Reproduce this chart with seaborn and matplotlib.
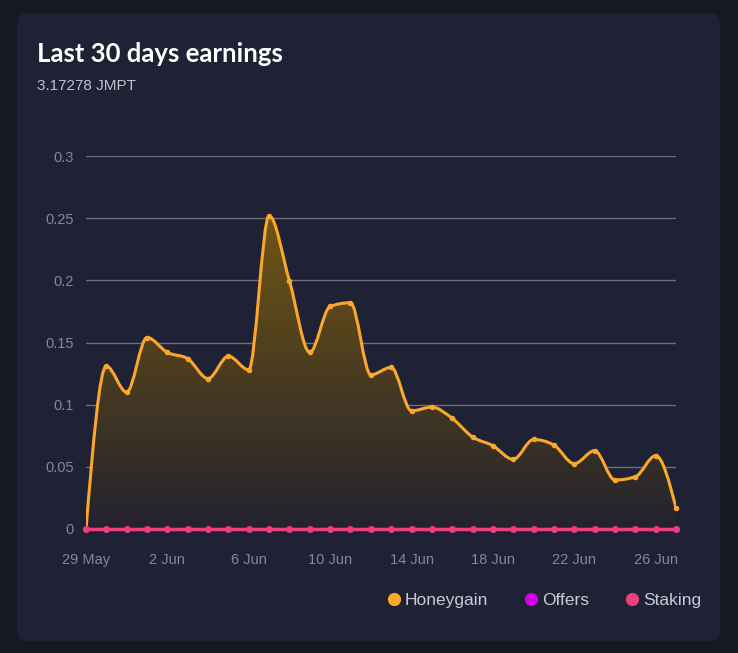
import numpy as np
import pandas as pd
import matplotlib
matplotlib.use("Agg")
import matplotlib.pyplot as plt
import seaborn as sns
from matplotlib.path import Path
from matplotlib.patches import PathPatch, FancyBboxPatch
from matplotlib.lines import Line2D

# ---------------- data ----------------
dates = ["29 May", "30 May", "31 May", "1 Jun", "2 Jun", "3 Jun", "4 Jun", "5 Jun",
         "6 Jun", "7 Jun", "8 Jun", "9 Jun", "10 Jun", "11 Jun", "12 Jun", "13 Jun",
         "14 Jun", "15 Jun", "16 Jun", "17 Jun", "18 Jun", "19 Jun", "20 Jun", "21 Jun",
         "22 Jun", "23 Jun", "24 Jun", "25 Jun", "26 Jun", "27 Jun"]
honeygain = [0.0, 0.131, 0.110, 0.154, 0.142, 0.137, 0.121, 0.139, 0.128, 0.252,
             0.1995, 0.142, 0.179, 0.182, 0.124, 0.130, 0.095, 0.098, 0.089, 0.074,
             0.067, 0.056, 0.072, 0.0675, 0.0525, 0.063, 0.0394, 0.042, 0.059, 0.017]
offers = [0.0] * 30
staking = [0.0] * 30
xtick_labels = ["29 May", "2 Jun", "6 Jun", "10 Jun", "14 Jun", "18 Jun", "22 Jun", "26 Jun"]
ytick_values = [0, 0.05, 0.1, 0.15, 0.2, 0.25, 0.3]
ytick_labels = ["0", "0.05", "0.1", "0.15", "0.2", "0.25", "0.3"]
title = "Last 30 days earnings"
subtitle = "3.17278 JMPT"
series_names = ["Honeygain", "Offers", "Staking"]

# ---------------- style ----------------
BG = "#161824"
CARD = "#1f2135"
ORANGE = "#fba72a"
MAGENTA = "#d400e8"
PINK = "#ea3f7c"
GRID = "#6c6f7c"
TICK = "#868894"
FILL_TOP = np.array([113, 85, 20]) / 255
FILL_BOTTOM = np.array([36, 35, 45]) / 255

sns.set_theme(style="dark")
plt.rcParams["font.family"] = ["Liberation Sans", "DejaVu Sans"]

df = pd.DataFrame({"day": np.arange(len(dates)), "date": dates,
                   "Honeygain": honeygain, "Offers": offers, "Staking": staking})

fig = plt.figure(figsize=(7.38, 6.53), dpi=100, facecolor=BG)
W, H = 738, 653
card = FancyBboxPatch((17 / W, (H - 641) / H), (720 - 17) / W, (641 - 13) / H,
                      boxstyle="round,pad=0,rounding_size=0.015",
                      transform=fig.transFigure, facecolor=CARD, edgecolor="none", zorder=-10)
fig.patches.append(card)

ax = fig.add_axes([86 / W, 1 - 529 / H, (676 - 86) / W, (529 - 156) / H])
ax.set_zorder(5)
ax.set_facecolor("none")
ax.patch.set_alpha(0)

# grid lines
for v in ytick_values[1:]:
    ax.axhline(v, color=GRID, lw=1.0, zorder=1)

# monotone cubic (d3 monotoneX style) bezier path in data coordinates
x = df["day"].to_numpy(dtype=float)
y = df["Honeygain"].to_numpy(dtype=float)
n = len(x)
h = np.diff(x)
s = np.diff(y) / h
t = np.zeros(n)
for i in range(1, n - 1):
    p = (s[i - 1] * h[i] + s[i] * h[i - 1]) / (h[i - 1] + h[i])
    t[i] = (np.sign(s[i - 1]) + np.sign(s[i])) * min(abs(s[i - 1]), abs(s[i]), 0.5 * abs(p))
t[0] = (3 * s[0] - t[1]) / 2
t[-1] = (3 * s[-1] - t[-2]) / 2
verts = [(x[0], y[0])]
codes = [Path.MOVETO]
for i in range(n - 1):
    dx = (x[i + 1] - x[i]) / 3
    verts += [(x[i] + dx, y[i] + dx * t[i]), (x[i + 1] - dx, y[i + 1] - dx * t[i + 1]),
              (x[i + 1], y[i + 1])]
    codes += [Path.CURVE4] * 3
line_path = Path(verts, codes)
fill_path = Path(verts + [(x[-1], 0), (x[0], 0), (x[0], y[0])],
                 codes + [Path.LINETO, Path.LINETO, Path.CLOSEPOLY])

# gradient fill (opaque, top colour at the peak, fading to near background at 0)
ymax = max(honeygain)
frac = np.linspace(1, 0, 256)[:, None]
grad = np.ones((256, 1, 4))
grad[:, 0, :3] = FILL_BOTTOM + (FILL_TOP - FILL_BOTTOM) * frac
im = ax.imshow(grad, extent=[x[0], x[-1], 0, ymax], aspect="auto", origin="upper",
               interpolation="bilinear", zorder=2)
clip = PathPatch(fill_path, transform=ax.transData, facecolor="none", edgecolor="none")
ax.add_patch(clip)
im.set_clip_path(clip)

ax.add_patch(PathPatch(line_path, facecolor="none", edgecolor=ORANGE, lw=2.2,
                       zorder=3, capstyle="round", joinstyle="round"))
sns.scatterplot(data=df, x="day", y="Honeygain", color=ORANGE, s=16, linewidth=0,
                ax=ax, zorder=4, legend=False, clip_on=False)

# zero series
sns.lineplot(data=df, x="day", y="Offers", color=MAGENTA, lw=2.4, ax=ax, zorder=5,
             legend=False, clip_on=False)
sns.scatterplot(data=df, x="day", y="Offers", color=MAGENTA, s=24, linewidth=0,
                ax=ax, zorder=5, legend=False, clip_on=False)
sns.lineplot(data=df, x="day", y="Staking", color=PINK, lw=2.4, ax=ax, zorder=6,
             legend=False, clip_on=False)
sns.scatterplot(data=df, x="day", y="Staking", color=PINK, s=24, linewidth=0,
                ax=ax, zorder=6, legend=False, clip_on=False)

ax.set_xlim(x[0], x[-1])
ax.set_ylim(0, 0.3)

# axes cosmetics
for sp in ax.spines.values():
    sp.set_visible(False)
ax.set_xlabel("")
ax.set_ylabel("")
ax.grid(False)
ax.set_xticks(np.arange(0, 29, 4))
ax.set_xticklabels(xtick_labels)
ax.set_yticks(ytick_values)
ax.set_yticklabels(ytick_labels)
ax.tick_params(axis="both", length=0, colors=TICK, labelsize=10.5)
ax.tick_params(axis="y", pad=9)
ax.tick_params(axis="x", pad=17)

# title
fig.text(37 / W, 1 - 62 / H, title, color="white", fontsize=18.5, fontweight="bold",
         family=["Lato", "DejaVu Sans"], ha="left", va="baseline")
fig.text(37 / W, 1 - 90 / H, subtitle, color="#bfc1cd", fontsize=11,
         family=["Liberation Sans", "DejaVu Sans"], ha="left", va="baseline")

# legend
handles = [Line2D([0], [0], marker="o", ls="none", markersize=9.5, markerfacecolor=c,
                  markeredgecolor="none") for c in (ORANGE, MAGENTA, PINK)]
leg = fig.legend(handles, series_names, loc="center right",
                 bbox_to_anchor=(701 / W, 1 - 600 / H), ncol=3, frameon=False,
                 borderpad=0, borderaxespad=0,
                 handletextpad=0.15, columnspacing=1.95, handlelength=1.0,
                 prop={"family": ["Liberation Sans", "DejaVu Sans"], "size": 12.5})
for txt in leg.get_texts():
    txt.set_color("#c8cad6")

fig.savefig("out.png", dpi=100, facecolor=BG)
